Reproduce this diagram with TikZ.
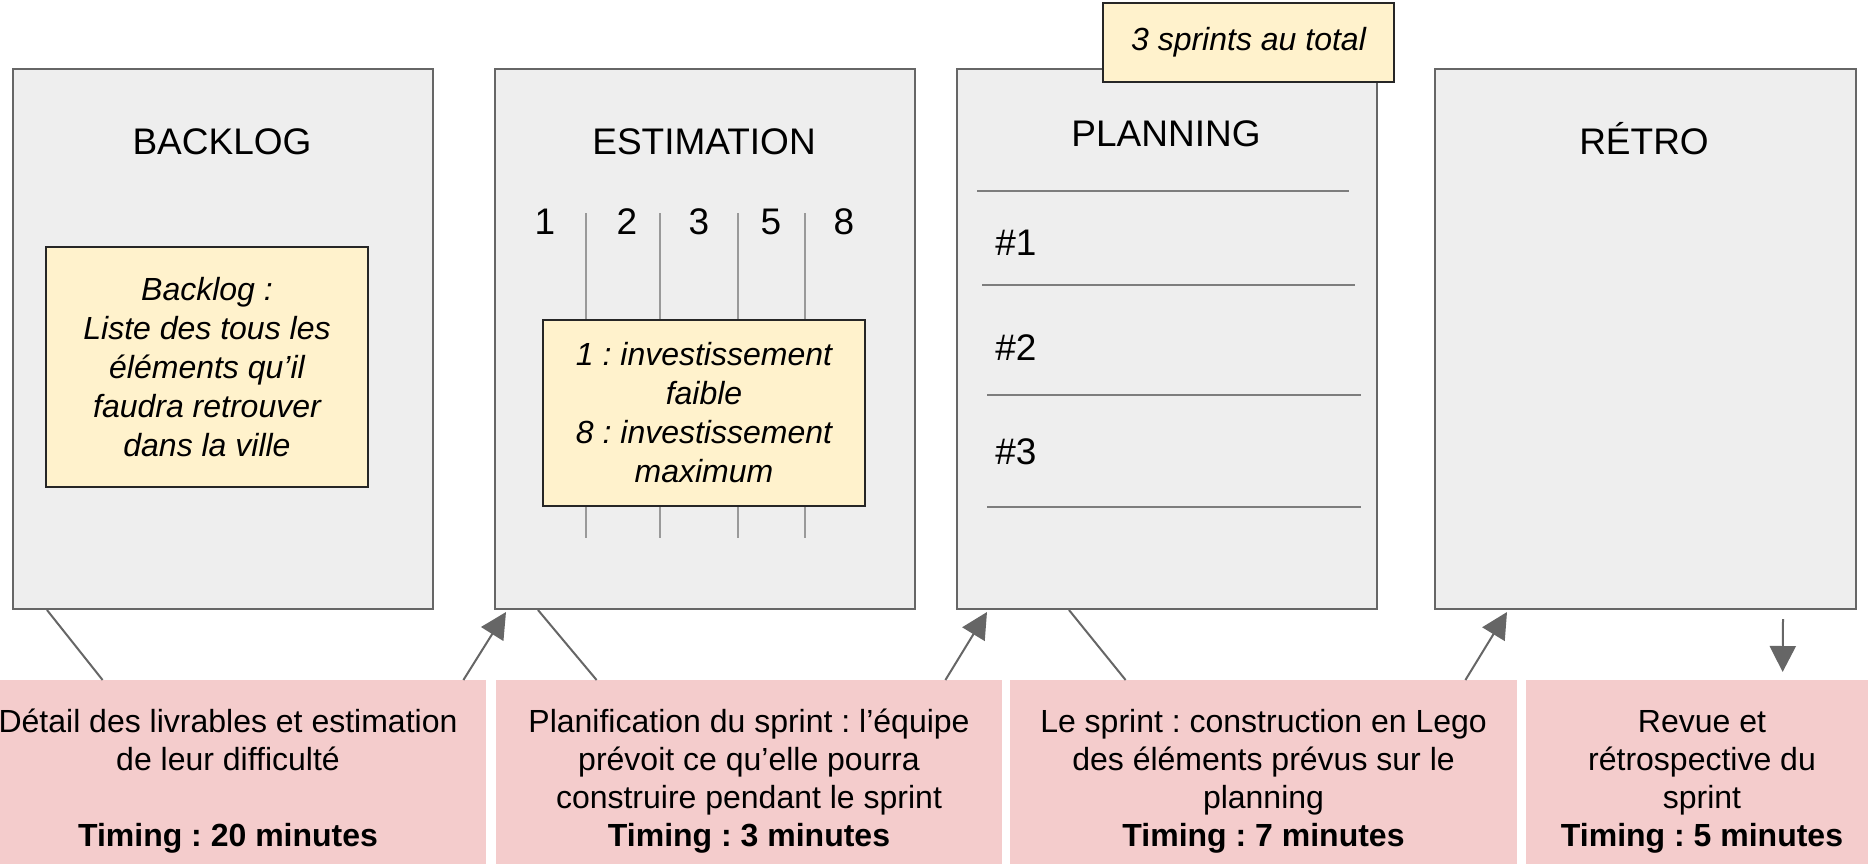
\documentclass[tikz,border=0pt]{standalone}
\usepackage{fontspec}
\setmainfont{Liberation Sans}
\frenchspacing
\usetikzlibrary{arrows.meta,calc}
\definecolor{boxgrey}{HTML}{EEEEEE}
\definecolor{edgegrey}{HTML}{666666}
\definecolor{notey}{HTML}{FFF2CC}
\definecolor{pinkbg}{HTML}{F4CCCC}
\definecolor{tickgrey}{HTML}{999999}
\begin{document}
\begin{tikzpicture}[x=0.5pt,y=-0.5pt,
  panel/.style={draw=edgegrey, line width=1pt, fill=boxgrey, minimum width=210pt, minimum height=270pt, anchor=north west, inner sep=0},
  notebox/.style={draw=black!85, line width=0.9pt, fill=notey, inner sep=0, font=\fontsize{16}{19.5}\selectfont\itshape, align=center},
  stagebox/.style={fill=pinkbg, anchor=north, inner xsep=0, inner ysep=10pt, align=center, font=\fontsize{16}{18.9}\selectfont},
  paneltitle/.style={font=\fontsize{18.5}{22}\selectfont, anchor=base, inner sep=0},
  link/.style={draw=edgegrey, line width=1pt},
  flow/.style={link, -{Triangle[length=13pt,width=13pt]}},
  tickline/.style={draw=tickgrey, line width=0.75pt},
  planline/.style={draw=edgegrey!85, line width=0.75pt}]
\useasboundingbox (0,0) rectangle (1868,863);
\clip (0,0) rectangle (1868,863);

% panels
\node[panel] (b1) at (12,68) {};
\node[panel] (b2) at (494,68) {};
\node[panel] (b3) at (956,68) {};
\node[panel, minimum width=210.5pt] (b4) at (1434,68) {};

% titles
\node[paneltitle] (t1) at (222,154) {BACKLOG};
\node[paneltitle] (t2) at (704,154) {ESTIMATION};
\node[paneltitle] (t3) at (1166,146) {PLANNING};
\node[paneltitle] (t4) at (1644,154) {RÉTRO};

% backlog note
\node[notebox, minimum width=161pt, minimum height=120pt] (n1) at (207,367)
  {Backlog :\\Liste des tous les\\éléments qu’il\\faudra retrouver\\dans la ville};

% estimation scale
\foreach \x in {586,660,738,805} \draw[tickline] (\x,213) -- (\x,538);
\node[paneltitle] (e1) at (545,234) {1};
\node[paneltitle] (e2) at (627,234) {2};
\node[paneltitle] (e3) at (699,234) {3};
\node[paneltitle] (e5) at (771,234) {5};
\node[paneltitle] (e8) at (844,234) {8};
\node[notebox, minimum width=161pt, minimum height=93pt] (n2) at (704,413)
  {1 : investissement\\faible\\8 : investissement\\maximum};

% planning rows
\draw[planline] (977,191) -- (1349,191);
\draw[planline] (982,285) -- (1355,285);
\draw[planline] (987,395) -- (1361,395);
\draw[planline] (987,507) -- (1361,507);
\node[paneltitle, anchor=base west] (s1) at (995,255) {\#1};
\node[paneltitle, anchor=base west] (s2) at (995,360) {\#2};
\node[paneltitle, anchor=base west] (s3) at (995,464) {\#3};
\node[notebox, minimum width=145.5pt, minimum height=39.5pt] (n3) at (1248.5,42.5) {3 sprints au total};

% stages
\node[stagebox, minimum width=258pt] (p1) at (228,680)
  {\rule{0pt}{16.25pt}Détail des livrables et estimation\\de leur difficulté\\[18.9pt]\textbf{Timing : 20 minutes}};
\node[stagebox, minimum width=253pt] (p2) at (749,680)
  {\rule{0pt}{16.25pt}Planification du sprint : l’équipe\\prévoit ce qu’elle pourra\\construire pendant le sprint\\\textbf{Timing : 3 minutes}};
\node[stagebox, minimum width=253.5pt] (p3) at (1263.5,680)
  {\rule{0pt}{16.25pt}Le sprint : construction en Lego\\des éléments prévus sur le\\planning\\\textbf{Timing : 7 minutes}};
\node[stagebox, minimum width=176pt] (p4) at (1702,680)
  {\rule{0pt}{16.25pt}Revue et\\rétrospective du\\sprint\\\textbf{Timing : 5 minutes}};

% connectors
\draw[link] ($(b1.south west)+(35,0)$) -- ($(p1.north west)+(133,0)$);
\draw[flow] ($(p1.north east)+(-23,0)$) -- ($(b2.south west)+(12,2)$);
\draw[link] ($(b2.south west)+(44,0)$) -- ($(p2.north west)+(101,0)$);
\draw[flow] ($(p2.north east)+(-57,0)$) -- ($(b3.south west)+(31,2)$);
\draw[link] ($(b3.south west)+(113,0)$) -- ($(p3.north west)+(116,0)$);
\draw[flow] ($(p3.north east)+(-52,0)$) -- ($(b4.south west)+(73,2)$);
\draw[flow] ($(b4.south west)+(349,9)$) -- ($(p4.north west)+(257,-8)$);
\end{tikzpicture}
\end{document}
